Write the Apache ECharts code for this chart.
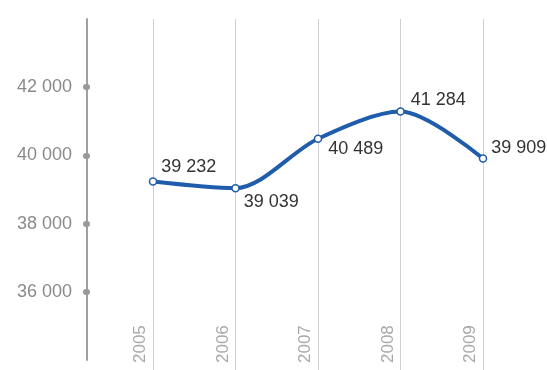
<!DOCTYPE html>
<html lang="en">
<head>
    <meta charset="UTF-8">
    <title>Line chart 2005-2009</title>
    <style>
        * { margin: 0; padding: 0; box-sizing: border-box; }
        body { background: #fff; }
        #chart { width: 547px; height: 370px; }
    </style>
    <script src="https://cdn.jsdelivr.net/npm/echarts@6.0.0/dist/echarts.min.js"></script>
</head>
<body>
    <div id="chart"></div>
    <script>
        // data
        const years = ['2005', '2006', '2007', '2008', '2009'];
        const values = [39232, 39039, 40489, 41284, 39909];
        const yTicks = [36000, 38000, 40000, 42000];

        // label offsets per point (style only)
        const labelOffsets = [[0, -15], [0, 14], [2, 10], [2, -12], [0, -10]];

        function fmt(v) {
            return String(v).replace(/\B(?=(\d{3})+(?!\d))/g, ' ');
        }

        const chart = echarts.init(document.getElementById('chart'));

        const option = {
            animation: false,
            textStyle: { fontFamily: '"Liberation Sans", Arial, sans-serif' },
            grid: { left: 153, right: 64, top: 19, bottom: 10 },
            xAxis: {
                type: 'category',
                data: years,
                boundaryGap: false,
                axisLine: { show: false },
                axisTick: { show: true, inside: false, length: 10, lineStyle: { color: '#d0d0d0' } },
                splitLine: { show: true, lineStyle: { color: '#d0d0d0', width: 1 } },
                axisLabel: {
                    inside: true,
                    rotate: 90,
                    margin: -3,
                    color: '#a8a8a8',
                    fontSize: 17,
                    verticalAlign: 'bottom',
                    padding: [0, 0, 4, 0]
                }
            },
            yAxis: {
                type: 'value',
                min: 34000,
                max: 44000,
                interval: 2000,
                offset: 66,
                axisLine: { show: true, lineStyle: { color: '#a0a0a0', width: 2 } },
                axisTick: {
                    show: true,
                    length: 1,
                    customValues: yTicks,
                    lineStyle: { color: '#999', width: 6, cap: 'round' }
                },
                splitLine: { show: false },
                axisLabel: {
                    customValues: yTicks,
                    margin: 15,
                    color: '#8a8a8a',
                    fontSize: 18,
                    formatter: fmt
                }
            },
            series: [{
                type: 'line',
                data: values,
                smooth: 0.3,
                symbol: 'circle',
                symbolSize: 7,
                itemStyle: { color: '#fff', borderColor: '#1f5cab', borderWidth: 1.5 },
                lineStyle: { color: '#1f5cab', width: 4 },
                label: {
                    show: true,
                    position: 'right',
                    distance: 4,
                    color: '#333',
                    fontSize: 18,
                    formatter: p => fmt(p.value)
                },
                labelLayout: function (params) {
                    const o = labelOffsets[params.dataIndex];
                    return { x: params.labelRect.x + o[0], y: params.labelRect.y + o[1] };
                }
            }]
        };

        chart.setOption(option);
    </script>
</body>
</html>
